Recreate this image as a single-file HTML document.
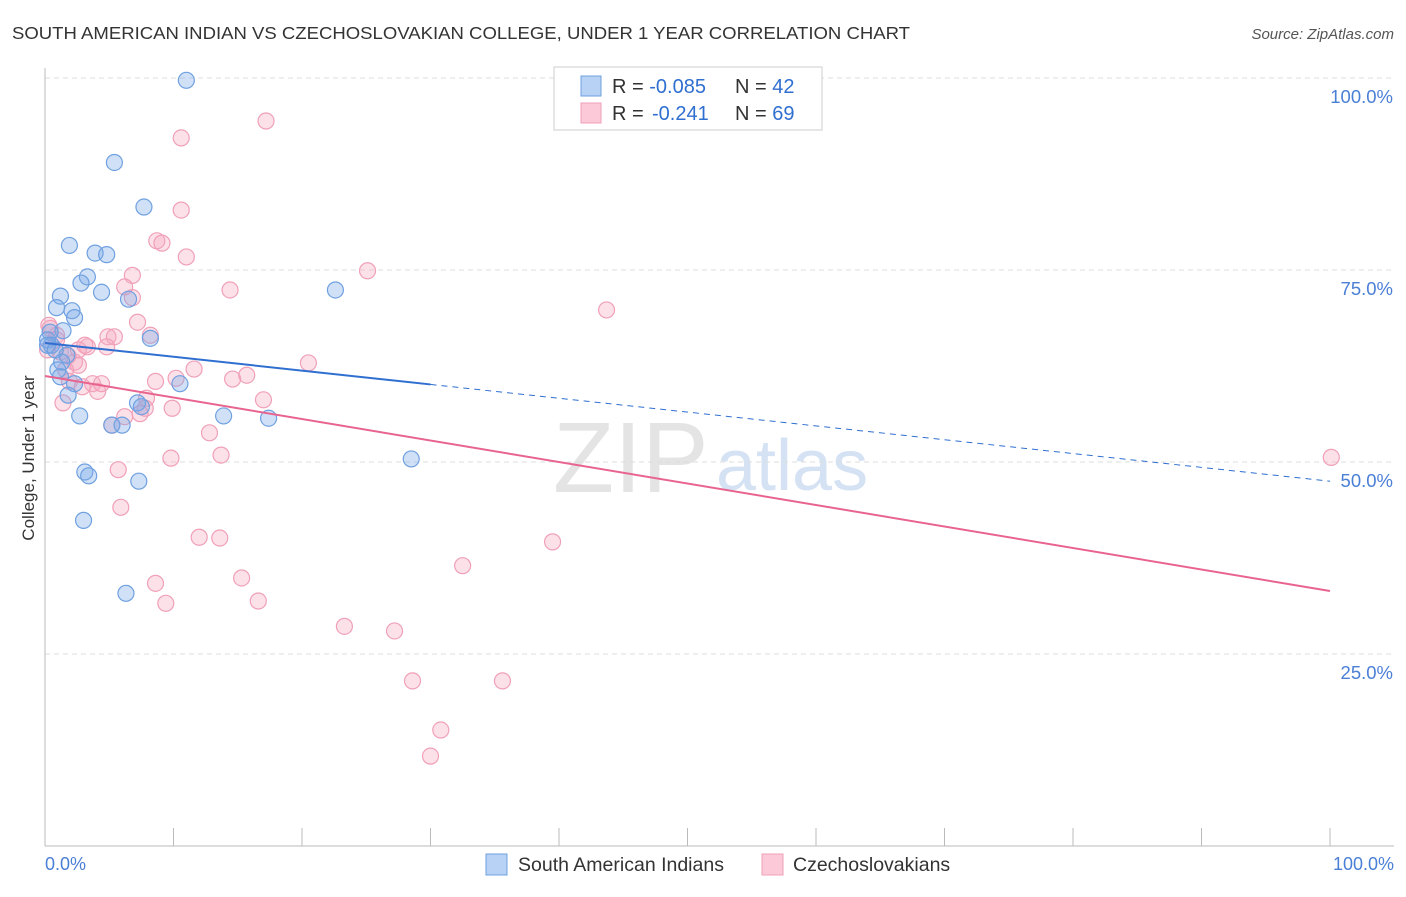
<!DOCTYPE html>
<html><head><meta charset="utf-8"><style>
body{margin:0;background:#fff;font-family:"Liberation Sans",sans-serif}
svg text{font-family:"Liberation Sans",sans-serif}
</style></head><body>
<svg id="chart" width="1406" height="892">
<text x="12" y="39" font-size="17.5" fill="#333" textLength="898" lengthAdjust="spacingAndGlyphs">SOUTH AMERICAN INDIAN VS CZECHOSLOVAKIAN COLLEGE, UNDER 1 YEAR CORRELATION CHART</text>
<text x="1394" y="39" font-size="15" fill="#555" font-style="italic" text-anchor="end">Source: ZipAtlas.com</text>
<text x="553" y="492" font-size="100" fill="#e4e4e4" font-family="Liberation Serif">ZIP</text>
<text x="716" y="490" font-size="72" fill="#d4e2f4">atlas</text>
<g id="grid"></g><g id="marks"></g>
<text transform="translate(34,458) rotate(-90)" font-size="17" fill="#333" text-anchor="middle">College, Under 1 year</text>
<text x="45" y="870" font-size="18" fill="#4a7fd6">0.0%</text>
<text x="1394" y="870" font-size="18" fill="#4a7fd6" text-anchor="end">100.0%</text>
<g>
<rect x="554" y="67" width="268" height="63" fill="#fff" stroke="#ccc"/>
<rect x="581" y="76" width="20" height="20" fill="#b7d2f5" stroke="#6fa0e0"/>
<rect x="581" y="103" width="20" height="20" fill="#fbc9d7" stroke="#f0a0b8"/>
<text x="612" y="93" font-size="20" fill="#333">R = <tspan fill="#2f6fd0">-0.085</tspan><tspan x="735">N = </tspan><tspan fill="#2f6fd0">42</tspan></text>
<text x="612" y="120" font-size="20" fill="#333">R = <tspan x="652" fill="#2f6fd0">-0.241</tspan><tspan x="735">N = </tspan><tspan fill="#2f6fd0">69</tspan></text>
</g>
<g>
<rect x="486" y="854" width="21" height="21" fill="#b7d2f5" stroke="#6fa0e0"/>
<text x="518" y="871" font-size="19.5" fill="#333">South American Indians</text>
<rect x="762" y="854" width="21" height="21" fill="#fbc9d7" stroke="#f0a0b8"/>
<text x="793" y="871" font-size="19.5" fill="#333">Czechoslovakians</text>
</g>
</svg>
<script>
const yTicks=[25,50,75,100];
const yTickLabels=["25.0%","50.0%","75.0%","100.0%"];
const xTicks=[0,10,20,30,40,50,60,70,80,90,100];
const blueX=[11.0,5.4,7.7,1.9,3.9,4.8,3.3,2.8,4.4,1.2,6.5,0.9,2.1,2.3,22.6,1.4,0.4,0.2,0.5,1.7,1.3,1.0,1.2,2.3,10.5,1.8,2.7,7.2,7.5,13.9,17.4,5.2,6.0,28.5,3.1,3.4,7.3,3.0,6.3,8.2,0.2,0.8];
const blueY=[99.7,89.0,83.2,78.2,77.2,77.0,74.1,73.3,72.1,71.6,71.2,70.1,69.7,68.8,72.4,67.1,66.9,65.9,65.2,63.9,63.0,62.0,61.1,60.2,60.2,58.7,56.0,57.7,57.2,56.0,55.7,54.8,54.8,50.4,48.7,48.2,47.5,42.4,32.9,66.1,65.2,64.6];
const pinkX=[17.2,10.6,10.6,8.7,9.1,11.0,25.1,6.8,6.2,14.4,6.8,43.7,7.2,0.4,0.9,8.2,4.9,5.4,4.8,3.3,0.2,1.2,1.8,2.3,2.6,20.5,11.6,8.6,14.6,15.7,10.2,1.9,3.7,2.9,4.1,1.4,7.9,17.0,7.8,6.2,9.9,7.4,5.2,12.8,13.7,9.8,5.7,100.1,5.9,12.0,13.6,39.5,32.5,8.6,15.3,9.4,16.6,23.3,27.2,28.6,35.6,30.8,30.0,0.3,0.9,1.6,4.4,2.6,3.1];
const pinkY=[94.4,92.2,82.8,78.8,78.5,76.7,74.9,74.3,72.8,72.4,71.4,69.8,68.2,67.4,66.5,66.5,66.3,66.3,65.0,65.0,64.6,64.3,63.8,63.0,62.6,62.9,62.1,60.5,60.8,61.3,60.9,60.5,60.2,59.8,59.2,57.7,58.3,58.1,57.0,55.9,57.0,56.3,54.8,53.8,50.9,50.5,49.0,50.6,44.1,40.2,40.1,39.6,36.5,34.2,34.9,31.6,31.9,28.6,28.0,21.5,21.5,15.1,11.7,67.8,65.9,62.0,60.2,64.6,65.2];
const blueTrend=[65.5,47.5];
const pinkTrend=[61.2,33.2];
const NS="http://www.w3.org/2000/svg";
const X=v=>45+v*12.85, Y=v=>846-v*7.68;
const grid=document.getElementById('grid'), marks=document.getElementById('marks');
function mk(tag,attrs,parent){const e=document.createElementNS(NS,tag);for(const k in attrs)e.setAttribute(k,attrs[k]);parent.appendChild(e);return e;}
yTicks.forEach((t,i)=>{
 const l=mk('line',{x1:45,x2:1394,y1:Y(t),y2:Y(t),stroke:'#ddd','stroke-dasharray':'5,4'},grid);
 
 
 const tx=mk('text',{x:1393,y:Y(t)+25,'font-size':18.5,fill:'#4a7fd6','text-anchor':'end'},grid);
 tx.textContent=yTickLabels[i];
 
 
});
const ax=mk('line',{x1:45,x2:1394,y1:846,y2:846,stroke:'#bbb'},grid);


const ay=mk('line',{x1:45,x2:45,y1:68,y2:846,stroke:'#bbb'},grid);


xTicks.forEach(t=>{
 const l=mk('line',{x1:X(t),x2:X(t),y1:828,y2:846,stroke:'#bbb'},grid);
 
 
});
function pts(xs,ys,fill,stroke,name){xs.forEach((x,i)=>{
 const c=mk('circle',{cx:X(x),cy:Y(ys[i]),r:8,fill:fill,stroke:stroke,'stroke-width':1.2},marks);
 
 
});}
pts(pinkX,pinkY,'rgba(246,168,192,0.35)','#f0a0b8','czechoslovakian-point');
pts(blueX,blueY,'rgba(120,170,232,0.35)','#6fa0e0','south-american-point');
const by=x=>blueTrend[0]+(blueTrend[1]-blueTrend[0])*x/100;
const b1=mk('line',{x1:X(0),y1:Y(by(0)),x2:X(30),y2:Y(by(30)),stroke:'#2f6fd0','stroke-width':2},marks);


const b2=mk('line',{x1:X(30),y1:Y(by(30)),x2:X(100),y2:Y(by(100)),stroke:'#2f6fd0','stroke-width':1,'stroke-dasharray':'6,5'},marks);


const p1=mk('line',{x1:X(0),y1:Y(pinkTrend[0]),x2:X(100),y2:Y(pinkTrend[1]),stroke:'#e8648f','stroke-width':2},marks);


</script>
</body></html>
